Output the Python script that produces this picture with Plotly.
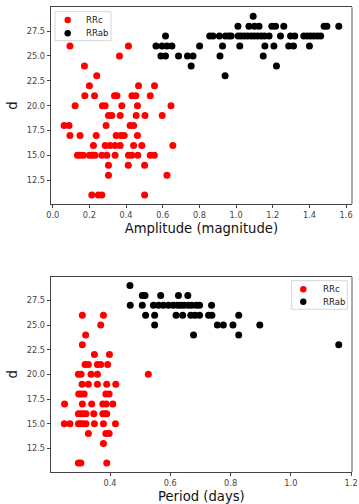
import plotly.graph_objects as go

# ---------------- data ----------------
# Top panel: amplitude vs d
rrc_amp = [0.094, 0.413,
           0.364,
           0.173,
           0.240,
           0.200, 0.468, 0.555,
           0.175, 0.228, 0.337, 0.350, 0.432, 0.453, 0.532,
           0.122, 0.271, 0.286, 0.377, 0.462, 0.645,
           0.304, 0.322, 0.368, 0.455, 0.503, 0.597,
           0.062, 0.089, 0.291, 0.422, 0.441,
           0.094, 0.149, 0.237, 0.346, 0.372, 0.390, 0.462,
           0.222, 0.286, 0.313, 0.340, 0.368, 0.441, 0.486, 0.655,
           0.135, 0.149, 0.167, 0.200, 0.215, 0.231, 0.268, 0.295, 0.340, 0.413, 0.432, 0.464, 0.532, 0.554,
           0.304, 0.412, 0.501,
           0.304, 0.623,
           0.213, 0.249, 0.268, 0.501]
rrc_amp_d = [26, 26,
             25,
             24,
             23,
             22, 22, 22,
             21, 21, 21, 21, 21, 21, 21,
             20, 20, 20, 20, 20, 20,
             19, 19, 19, 19, 19, 19,
             18, 18, 18, 18, 18,
             17, 17, 17, 17, 17, 17, 17,
             16, 16, 16, 16, 16, 16, 16, 16,
             15, 15, 15, 15, 15, 15, 15, 15, 15, 15, 15, 15, 15, 15,
             14, 14, 14,
             13, 13,
             11, 11, 11, 11]

rrab_amp = [1.093,
            1.01, 1.07, 1.10, 1.125, 1.195, 1.215, 1.26, 1.48, 1.495, 1.56,
            0.615, 0.856, 0.874, 0.909, 0.942, 0.960, 0.973, 1.011, 1.027, 1.045, 1.063, 1.082, 1.100,
            1.118, 1.137, 1.155, 1.180, 1.242, 1.297, 1.320, 1.369, 1.388, 1.406, 1.424, 1.443, 1.461,
            0.563, 0.596, 0.623, 0.650, 0.801, 0.926, 1.020, 1.157, 1.206, 1.287, 1.313, 1.400,
            0.590, 0.615, 0.686, 0.735, 0.765, 0.912, 1.148,
            0.755, 1.220,
            0.940]
rrab_amp_d = [29,
              28, 28, 28, 28, 28, 28, 28, 28, 28, 28,
              27, 27, 27, 27, 27, 27, 27, 27, 27, 27, 27, 27, 27,
              27, 27, 27, 27, 27, 27, 27, 27, 27, 27, 27, 27, 27,
              26, 26, 26, 26, 26, 26, 26, 26, 26, 26, 26, 26,
              25, 25, 25, 25, 25, 25, 25,
              24, 24,
              23]

# Bottom panel: period vs d
rrc_per = [0.308, 0.378,
           0.369,
           0.319,
           0.308,
           0.348, 0.398,
           0.317, 0.328, 0.358, 0.369, 0.392,
           0.295, 0.304, 0.337, 0.358, 0.527,
           0.307, 0.328, 0.358, 0.389, 0.419,
           0.296, 0.304, 0.314, 0.386, 0.397,
           0.249, 0.308, 0.339, 0.376, 0.387, 0.409,
           0.295, 0.304, 0.313, 0.320, 0.346, 0.376, 0.383, 0.389,
           0.248, 0.267, 0.295, 0.302, 0.311, 0.320, 0.348, 0.378, 0.418,
           0.328, 0.386, 0.397,
           0.378,
           0.295, 0.303, 0.389]
rrc_per_d = [26, 26,
             25,
             24,
             23,
             22, 22,
             21, 21, 21, 21, 21,
             20, 20, 20, 20, 20,
             19, 19, 19, 19, 19,
             18, 18, 18, 18, 18,
             17, 17, 17, 17, 17, 17,
             16, 16, 16, 16, 16, 16, 16, 16,
             15, 15, 15, 15, 15, 15, 15, 15, 15,
             14, 14, 14,
             13,
             11, 11, 11]

rrab_per = [0.466,
            0.507, 0.516, 0.568, 0.627, 0.658,
            0.467, 0.507, 0.544, 0.561, 0.577, 0.594, 0.610, 0.624, 0.635, 0.646, 0.660, 0.671, 0.686, 0.697, 0.737,
            0.518, 0.548, 0.619, 0.641, 0.668, 0.682, 0.697, 0.727, 0.738, 0.827,
            0.548, 0.756, 0.776, 0.808, 0.897,
            0.677, 0.827,
            1.159]
rrab_per_d = [29,
              28, 28, 28, 28, 28,
              27, 27, 27, 27, 27, 27, 27, 27, 27, 27, 27, 27, 27, 27, 27,
              26, 26, 26, 26, 26, 26, 26, 26, 26, 26,
              25, 25, 25, 25, 25,
              24, 24,
              23]

series_names = ["RRc", "RRab"]
series_colors = ["#ff0000", "#000000"]

# ---------------- figure ----------------
W, H = 359, 504
FONT = "DejaVu Sans"
AX = "#444444"

def px(x):
    return x / W

def py(y):
    return 1 - y / H

fig = go.Figure()
fig.add_trace(go.Scatter(x=rrc_amp, y=rrc_amp_d, mode="markers", name=series_names[0],
                         marker=dict(color=series_colors[0], size=7, line=dict(width=0)),
                         xaxis="x", yaxis="y", showlegend=False))
fig.add_trace(go.Scatter(x=rrab_amp, y=rrab_amp_d, mode="markers", name=series_names[1],
                         marker=dict(color=series_colors[1], size=7, line=dict(width=0)),
                         xaxis="x", yaxis="y", showlegend=False))
fig.add_trace(go.Scatter(x=rrc_per, y=rrc_per_d, mode="markers", name=series_names[0],
                         marker=dict(color=series_colors[0], size=7, line=dict(width=0)),
                         xaxis="x2", yaxis="y2", showlegend=False))
fig.add_trace(go.Scatter(x=rrab_per, y=rrab_per_d, mode="markers", name=series_names[1],
                         marker=dict(color=series_colors[1], size=7, line=dict(width=0)),
                         xaxis="x2", yaxis="y2", showlegend=False))

xdom = [px(50.7), px(352)]
top_dom = [py(204), py(7.3)]
bot_dom = [py(472), py(276.7)]

tickfont = dict(family=FONT, size=8.2, color=AX)
titlefont = dict(family=FONT, size=13.2, color="#111111")

common_x = dict(showgrid=False, zeroline=False, showline=True, linecolor=AX, linewidth=1,
                mirror=True, ticks="outside", ticklen=3, tickwidth=1, tickcolor=AX,
                tickfont=tickfont, tickformat=".1f", dtick=0.2, tick0=0)
common_y = dict(showgrid=False, zeroline=False, showline=True, linecolor=AX, linewidth=1,
                mirror=False, ticks="outside", ticklen=3, tickwidth=1, tickcolor=AX,
                tickfont=tickfont, tickformat=".1f", dtick=2.5, tick0=0,
                range=[10.1, 29.9])

fig.update_layout(
    width=W, height=H,
    margin=dict(l=0, r=0, t=0, b=0, autoexpand=False),
    paper_bgcolor="white", plot_bgcolor="white",
    font=dict(family=FONT),
    xaxis=dict(domain=xdom, anchor="y", range=[-0.011, 1.632],
               title=dict(text="Amplitude (magnitude)", font=titlefont, standoff=4), **common_x),
    yaxis=dict(domain=top_dom, anchor="x",
               title=dict(text="d", font=titlefont, standoff=6), **common_y),
    xaxis2=dict(domain=xdom, anchor="y2", range=[0.203, 1.203],
                title=dict(text="Period (days)", font=titlefont, standoff=4), **common_x),
    yaxis2=dict(domain=bot_dom, anchor="x2",
                title=dict(text="d", font=titlefont, standoff=6), **common_y),
)

shapes = []
# right spines (lighter, as in the reference)
for dom in (top_dom, bot_dom):
    shapes.append(dict(type="line", xref="paper", yref="paper", x0=xdom[1], x1=xdom[1],
                       y0=dom[0], y1=dom[1], line=dict(color="#ababab", width=2)))

annotations = []

def add_legend(box, mx, my_list, tx):
    x0, y0, x1, y1 = box
    shapes.append(dict(type="rect", xref="paper", yref="paper",
                       x0=px(x0), x1=px(x1), y0=py(y1), y1=py(y0),
                       line=dict(color="#d6d6d6", width=1), fillcolor="rgba(255,255,255,0.85)"))
    r = 3.2
    for name, col, my in zip(series_names, series_colors, my_list):
        shapes.append(dict(type="circle", xref="paper", yref="paper",
                           x0=px(mx - r), x1=px(mx + r), y0=py(my + r), y1=py(my - r),
                           line=dict(width=0), fillcolor=col))
        annotations.append(dict(text=name, xref="paper", yref="paper", x=px(tx), y=py(my),
                                xanchor="left", yanchor="middle", showarrow=False,
                                font=dict(family=FONT, size=8.6, color="#222222")))

add_legend((55, 11.7, 111, 40.7), 67.7, [20, 33.3], 84)
add_legend((291.7, 280.7, 347.3, 309.3), 303.3, [289.3, 301.7], 321)

fig.update_layout(shapes=shapes, annotations=annotations)

fig.write_html("out.html", config={"displayModeBar": False},
               post_script="document.body.style.margin='0';document.body.style.overflow='hidden';")
